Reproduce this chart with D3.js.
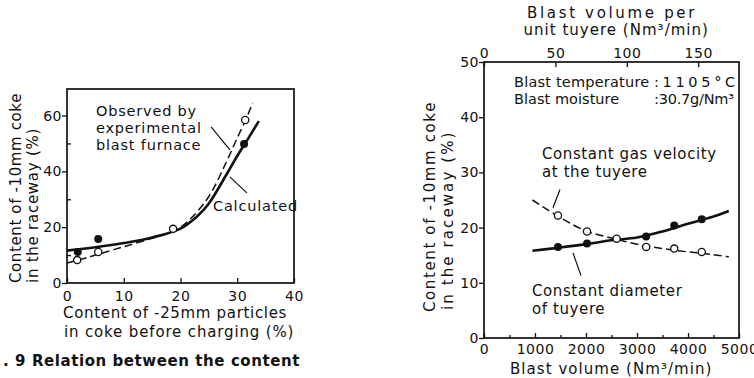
<!DOCTYPE html>
<meta charset="utf-8">
<style>
  body { margin: 0; background: #fff; }
  text { font-family: "DejaVu Sans", sans-serif; font-size: 15px; letter-spacing: 0.6px; fill: #111; }
  .tick text { font-size: 14px; letter-spacing: 0.5px; }
  .tick line { stroke: #111; stroke-width: 1.3px; }
  .frame { fill: none; stroke: #111; stroke-width: 1.7px; }
  .calc { fill: none; stroke: #111; stroke-width: 2.6px; }
  .obs { fill: none; stroke: #111; stroke-width: 1.5px; stroke-dasharray: 8,4; }
  .pointer { stroke: #111; stroke-width: 1.2px; }
  .note { font-size: 14.5px; letter-spacing: 0.8px; }
  .caption { font-weight: bold; }
</style>

<body>
  <script src="https://d3js.org/d3.v7.min.js"></script>
  <script>

    // left panel: -25mm particles (%) vs -10mm coke in raceway (%)
    var leftCalcX = [0, 5, 10, 15, 20, 23, 25, 28, 30, 32, 33.8];
    var leftCalcY = [11.6, 12.8, 14.3, 16.3, 19.5, 24, 28.5, 38.5, 45.5, 52, 58];
    var leftObsX = [0, 3, 5, 10, 15, 18, 20, 22, 25, 28, 30, 31.5, 32.7];
    var leftObsY = [7.2, 8.8, 10, 13, 16, 18, 20, 23.5, 31, 43, 52, 58.5, 64.5];
    var leftFilledX = [1.9, 5.5, 31.2];
    var leftFilledY = [11.1, 15.8, 49.8];
    var leftOpenX = [1.8, 5.5, 18.7, 31.4];
    var leftOpenY = [8.2, 11.1, 19.4, 58.4];
    var leftXTicks = [0, 10, 20, 30, 40];
    var leftYTicks = [0, 20, 40, 60];
    var leftYMinor = [10, 30, 50];

    // right panel: blast volume (Nm3/min) vs -10mm coke in raceway (%)
    var gasVolume = [1450, 2020, 2600, 3180, 3730, 4270];
    var gasContent = [22.2, 19.3, 18.0, 16.5, 16.2, 15.6];
    var diamVolume = [1450, 2020, 3180, 3730, 4270];
    var diamContent = [16.5, 17.1, 18.4, 20.4, 21.5];
    var curveVolume = [950, 1500, 2000, 2500, 3000, 3500, 4000, 4500, 4800];
    var gasCurve = [25, 21.8, 19.4, 18.1, 17.0, 16.2, 15.6, 15.1, 14.7];
    var diamCurve = [15.8, 16.4, 17.0, 17.7, 18.2, 19.3, 20.7, 22.0, 23.0];
    var rightXTicks = [0, 1000, 2000, 3000, 4000, 5000];
    var rightXMinor = [500, 1500, 2500, 3500, 4500];
    var rightYTicks = [0, 10, 20, 30, 40, 50];
    var topTicks = [0, 50, 100, 150];
    var tuyeres = 28;

    var svg = d3.select("body").append("svg")
      .attr("width", 754)
      .attr("height", 378);

    svg.append("rect").attr("width", 754).attr("height", 378).attr("fill", "#fff");

    function txt(g, x, y, s, len, anchor) {
      var t = g.append("text").attr("x", x).attr("y", y)
        .attr("text-anchor", anchor || "start").text(s);
      if (len) t.attr("textLength", len).attr("lengthAdjust", "spacing");
      return t;
    }

    function pts(xs, ys) { return xs.map(function (d, i) { return [d, ys[i]]; }); }

    function noDomain(g) { g.select(".domain").remove(); }

    // ---------- left panel ----------
    var xL = d3.scaleLinear().domain([0, 40]).range([67, 294]);
    var yL = d3.scaleLinear().domain([0, 69.5]).range([283, 89]);
    var left = svg.append("g");

    left.append("rect").attr("class", "frame")
      .attr("x", xL(0)).attr("y", yL(69.5))
      .attr("width", xL(40) - xL(0)).attr("height", yL(0) - yL(69.5));

    left.append("g")
      .attr("transform", "translate(0," + yL(0) + ")")
      .call(d3.axisBottom(xL).tickValues(leftXTicks).tickSizeInner(-5).tickSizeOuter(0).tickPadding(8))
      .call(noDomain);

    left.append("g")
      .attr("transform", "translate(" + xL(0) + ",0)")
      .call(d3.axisLeft(yL).tickValues(leftYTicks).tickSizeInner(5).tickSizeOuter(0).tickPadding(0))
      .call(noDomain);

    left.append("g")
      .attr("transform", "translate(" + xL(0) + ",0)")
      .call(d3.axisLeft(yL).tickValues(leftYMinor).tickSizeInner(-4).tickSizeOuter(0).tickFormat(""))
      .call(noDomain);

    var lineL = d3.line().x(function (d) { return xL(d[0]); }).y(function (d) { return yL(d[1]); })
      .curve(d3.curveCatmullRom);

    left.append("path").attr("class", "obs").attr("d", lineL(pts(leftObsX, leftObsY)));
    left.append("path").attr("class", "calc").attr("d", lineL(pts(leftCalcX, leftCalcY)));

    left.selectAll(".filled").data(pts(leftFilledX, leftFilledY)).enter().append("circle")
      .attr("cx", function (d) { return xL(d[0]); }).attr("cy", function (d) { return yL(d[1]); })
      .attr("r", 4).attr("fill", "#111");
    left.selectAll(".open").data(pts(leftOpenX, leftOpenY)).enter().append("circle")
      .attr("cx", function (d) { return xL(d[0]); }).attr("cy", function (d) { return yL(d[1]); })
      .attr("r", 3.6).attr("fill", "#fff").attr("stroke", "#111").attr("stroke-width", 1.3);

    // pointers (data units)
    left.append("line").attr("class", "pointer")
      .attr("x1", xL(25.4)).attr("y1", yL(55.9)).attr("x2", xL(28.7)).attr("y2", yL(47.7));
    left.append("line").attr("class", "pointer")
      .attr("x1", xL(28.7)).attr("y1", yL(38)).attr("x2", xL(31.7)).attr("y2", yL(32.3));

    txt(left, 96, 116, "Observed by").attr("class", "note");
    txt(left, 96, 133, "experimental").attr("class", "note");
    txt(left, 96, 150, "blast furnace").attr("class", "note");
    txt(left, 213, 211, "Calculated").attr("class", "note");

    txt(left, 175, 318, "Content of -25mm particles", 224, "middle");
    txt(left, 179, 337, "in coke before charging (%)", 230, "middle");

    txt(left, 0, 0, "Content of -10mm coke", 190).attr("transform", "translate(21,283) rotate(-90)");
    txt(left, 0, 0, "in the raceway (%)", 155).attr("transform", "translate(38,283) rotate(-90)");

    txt(left, 3, 366, ". 9 Relation between the content", 297).attr("class", "caption");

    // ---------- right panel ----------
    var xR = d3.scaleLinear().domain([0, 5000]).range([484, 739]);
    var xT = d3.scaleLinear().domain([0, 5000 / tuyeres]).range([484, 739]);
    var yR = d3.scaleLinear().domain([0, 50]).range([338, 62]);
    var right = svg.append("g");

    right.append("rect").attr("class", "frame")
      .attr("x", xR(0)).attr("y", yR(50))
      .attr("width", xR(5000) - xR(0)).attr("height", yR(0) - yR(50));

    right.append("g")
      .attr("transform", "translate(0," + yR(0) + ")")
      .call(d3.axisBottom(xR).tickValues(rightXTicks).tickSizeInner(-5).tickSizeOuter(0).tickPadding(6)
        .tickFormat(d3.format("d")))
      .call(noDomain);

    right.append("g")
      .attr("transform", "translate(0," + yR(0) + ")")
      .call(d3.axisBottom(xR).tickValues(rightXMinor).tickSizeInner(-3).tickSizeOuter(0).tickFormat(""))
      .call(noDomain);

    right.append("g")
      .attr("transform", "translate(0," + yR(50) + ")")
      .call(d3.axisTop(xT).tickValues(topTicks).tickSizeInner(-5).tickSizeOuter(0).tickPadding(4))
      .call(noDomain);

    right.append("g")
      .attr("transform", "translate(" + xR(0) + ",0)")
      .call(d3.axisLeft(yR).tickValues(rightYTicks).tickSizeInner(5).tickSizeOuter(0).tickPadding(0))
      .call(noDomain);

    var lineR = d3.line().x(function (d) { return xR(d[0]); }).y(function (d) { return yR(d[1]); })
      .curve(d3.curveCatmullRom);

    right.append("path").attr("class", "obs").attr("d", lineR(pts(curveVolume, gasCurve)));
    right.append("path").attr("class", "calc").attr("d", lineR(pts(curveVolume, diamCurve)));

    right.selectAll(".filled").data(pts(diamVolume, diamContent)).enter().append("circle")
      .attr("cx", function (d) { return xR(d[0]); }).attr("cy", function (d) { return yR(d[1]); })
      .attr("r", 4).attr("fill", "#111");
    right.selectAll(".open").data(pts(gasVolume, gasContent)).enter().append("circle")
      .attr("cx", function (d) { return xR(d[0]); }).attr("cy", function (d) { return yR(d[1]); })
      .attr("r", 3.6).attr("fill", "#fff").attr("stroke", "#111").attr("stroke-width", 1.3);

    right.append("line").attr("class", "pointer")
      .attr("x1", xR(1490)).attr("y1", yR(26.9)).attr("x2", xR(1353)).attr("y2", yR(23.6));
    right.append("line").attr("class", "pointer")
      .attr("x1", xR(1745)).attr("y1", yR(15.4)).attr("x2", xR(1902)).attr("y2", yR(11.3));

    txt(right, 611, 18, "Blast volume per", 168, "middle");
    txt(right, 616, 35, "unit tuyere (Nm³/min)", 185, "middle");

    txt(right, 514, 87, "Blast temperature", 136).attr("class", "note");
    txt(right, 654, 87, ":1105°C", 82).attr("class", "note");
    txt(right, 514, 104, "Blast moisture", 106).attr("class", "note");
    txt(right, 654, 104, ":30.7g/Nm³", 80).attr("class", "note").style("letter-spacing", "0px");

    txt(right, 542, 159, "Constant gas velocity");
    txt(right, 542, 177, "at the tuyere");
    txt(right, 532, 296, "Constant diameter");
    txt(right, 532, 314, "of tuyere");

    txt(right, 611, 374, "Blast volume (Nm³/min)", 202, "middle");

    txt(right, 0, 0, "Content of -10mm coke", 210).attr("transform", "translate(435,312) rotate(-90)");
    txt(right, 0, 0, "in the raceway (%)", 178).attr("transform", "translate(453,310) rotate(-90)");

  </script>
</body>

</html>
